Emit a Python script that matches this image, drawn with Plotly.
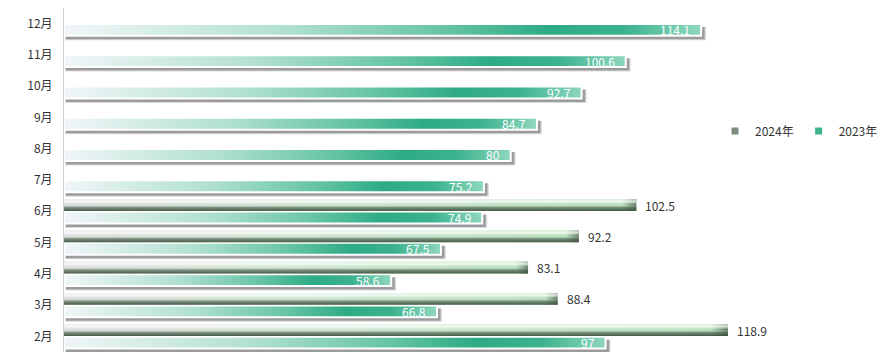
import plotly.graph_objects as go

# ---------------- data ----------------
months = ['2月', '3月', '4月', '5月', '6月', '7月', '8月', '9月', '10月', '11月', '12月']
v2024 = [118.9, 88.4, 83.1, 92.2, 102.5, None, None, None, None, None, None]
v2023 = [97, 66.8, 58.6, 67.5, 74.9, 75.2, 80, 84.7, 92.7, 100.6, 114.1]
series_names = ['2024年', '2023年']

# ---------------- layout constants ----------------
W, H = 896, 361
ML, MR, MT, MB = 64, 134, 8, 9
X_MAX = 125
PLOT_W = W - ML - MR
PLOT_H = H - MT - MB
ux = X_MAX / PLOT_W            # data units per pixel (x)
uy = len(months) / PLOT_H      # data units per pixel (y)

BAR_H = 0.38
OFF = 0.2
FONT = "Noto Sans CJK SC"

fig = go.Figure()


def rect(x0, x1, y0, y1):
    return [x0, x1, x1, x0, x0], [y0, y0, y1, y1, y0]


annotations = []

# ---------------- 2023 bars ----------------
for i, v in enumerate(v2023):
    if v is None:
        continue
    yc = i - OFF
    y0, y1 = yc - BAR_H / 2, yc + BAR_H / 2
    # soft shadow
    sx, sy = rect(1 * ux, v + 5 * ux, y0 - 4.5 * uy, y1 - 3 * uy)
    fig.add_trace(go.Scatter(x=sx, y=sy, fill='toself', mode='lines',
                             line=dict(width=0), fillcolor='rgba(120,120,120,0.25)',
                             hoverinfo='skip', showlegend=False))
    sx, sy = rect(2 * ux, v + 3.5 * ux, y0 - 3.5 * uy, y1 - 3 * uy)
    fig.add_trace(go.Scatter(x=sx, y=sy, fill='toself', mode='lines',
                             line=dict(width=0), fillcolor='rgba(100,100,100,0.55)',
                             hoverinfo='skip', showlegend=False))
    bx, by = rect(0, v, y0, y1)
    fig.add_trace(go.Scatter(
        x=bx, y=by, fill='toself', mode='lines',
        line=dict(width=2, color='white'),
        fillgradient=dict(type='horizontal', start=0, stop=v,
                          colorscale=[[0, '#f1f6f8'], [0.35, '#b0e0d0'],
                                      [0.6, '#66c4a5'], [0.76, '#2dab85'],
                                      [0.88, '#3cb28e'], [1, '#8fd7bf']]),
        hoverinfo='skip', showlegend=False))
    annotations.append(dict(x=v, y=yc, text=str(v), showarrow=False,
                            xanchor='right', xshift=-9, yshift=0,
                            font=dict(family=FONT, size=12, color='white')))

# ---------------- 2024 bars ----------------
for i, v in enumerate(v2024):
    if v is None:
        continue
    yc = i + OFF
    y0, y1 = yc - BAR_H / 2, yc + BAR_H / 2
    bx, by = rect(0, v, y0, y1)
    fig.add_trace(go.Scatter(
        x=bx, y=by, fill='toself', mode='lines', line=dict(width=0),
        fillgradient=dict(type='horizontal', start=0, stop=v,
                          colorscale=[[0, '#dadddb'], [0.45, '#cfe6d1'],
                                      [0.975, '#b6e0ba'], [1, '#5d735e']]),
        hoverinfo='skip', showlegend=False))
    # vertical shading: colorscale runs from the top edge (0) to the bottom edge (1)
    fig.add_trace(go.Scatter(
        x=bx, y=by, fill='toself', mode='lines', line=dict(width=0),
        fillgradient=dict(type='vertical', start=y1, stop=y0,
                          colorscale=[[0, 'rgba(255,255,255,0.45)'],
                                      [0.2, 'rgba(255,255,255,0.75)'],
                                      [0.45, 'rgba(255,255,255,0.0)'],
                                      [0.7, 'rgba(80,100,82,0.65)'],
                                      [1, 'rgba(62,82,64,0.95)']]),
        hoverinfo='skip', showlegend=False))
    annotations.append(dict(x=v, y=yc, text=str(v), showarrow=False,
                            xanchor='left', xshift=7, yshift=0,
                            font=dict(family=FONT, size=12, color='#333333')))

# ---------------- legend entries ----------------
fig.add_trace(go.Scatter(x=[None], y=[None], mode='markers', name=series_names[0],
                         marker=dict(symbol='square', size=7, color='#7d8c7f')))
fig.add_trace(go.Scatter(x=[None], y=[None], mode='markers', name=series_names[1],
                         marker=dict(symbol='square', size=7, color='#3db38f')))

fig.update_layout(
    width=W, height=H,
    margin=dict(l=ML, r=MR, t=MT, b=MB, autoexpand=False),
    paper_bgcolor='white', plot_bgcolor='white',
    font=dict(family=FONT, size=12, color='#333333'),
    showlegend=True,
    legend=dict(orientation='h', xref='paper', yref='paper',
                x=(715 - ML) / PLOT_W, y=(H - MB - 131) / PLOT_H,
                xanchor='left', yanchor='middle',
                font=dict(family=FONT, size=12, color='#333333'),
                itemwidth=30, bgcolor='rgba(0,0,0,0)'),
    annotations=annotations,
    xaxis=dict(range=[0, X_MAX], showgrid=False, zeroline=False,
               showticklabels=False, showline=False, fixedrange=True),
    yaxis=dict(range=[-0.5, len(months) - 0.5], tickmode='array',
               tickvals=list(range(len(months))), ticktext=months,
               showgrid=False, zeroline=False, showline=True,
               linecolor='#d0d0d0', linewidth=1,
               ticks='outside', ticklen=8, tickcolor='rgba(0,0,0,0)',
               tickfont=dict(family=FONT, size=12, color='#333333')),
)

fig.write_html("out.html", config={'displayModeBar': False},
               post_script="document.body.style.margin='0';")
